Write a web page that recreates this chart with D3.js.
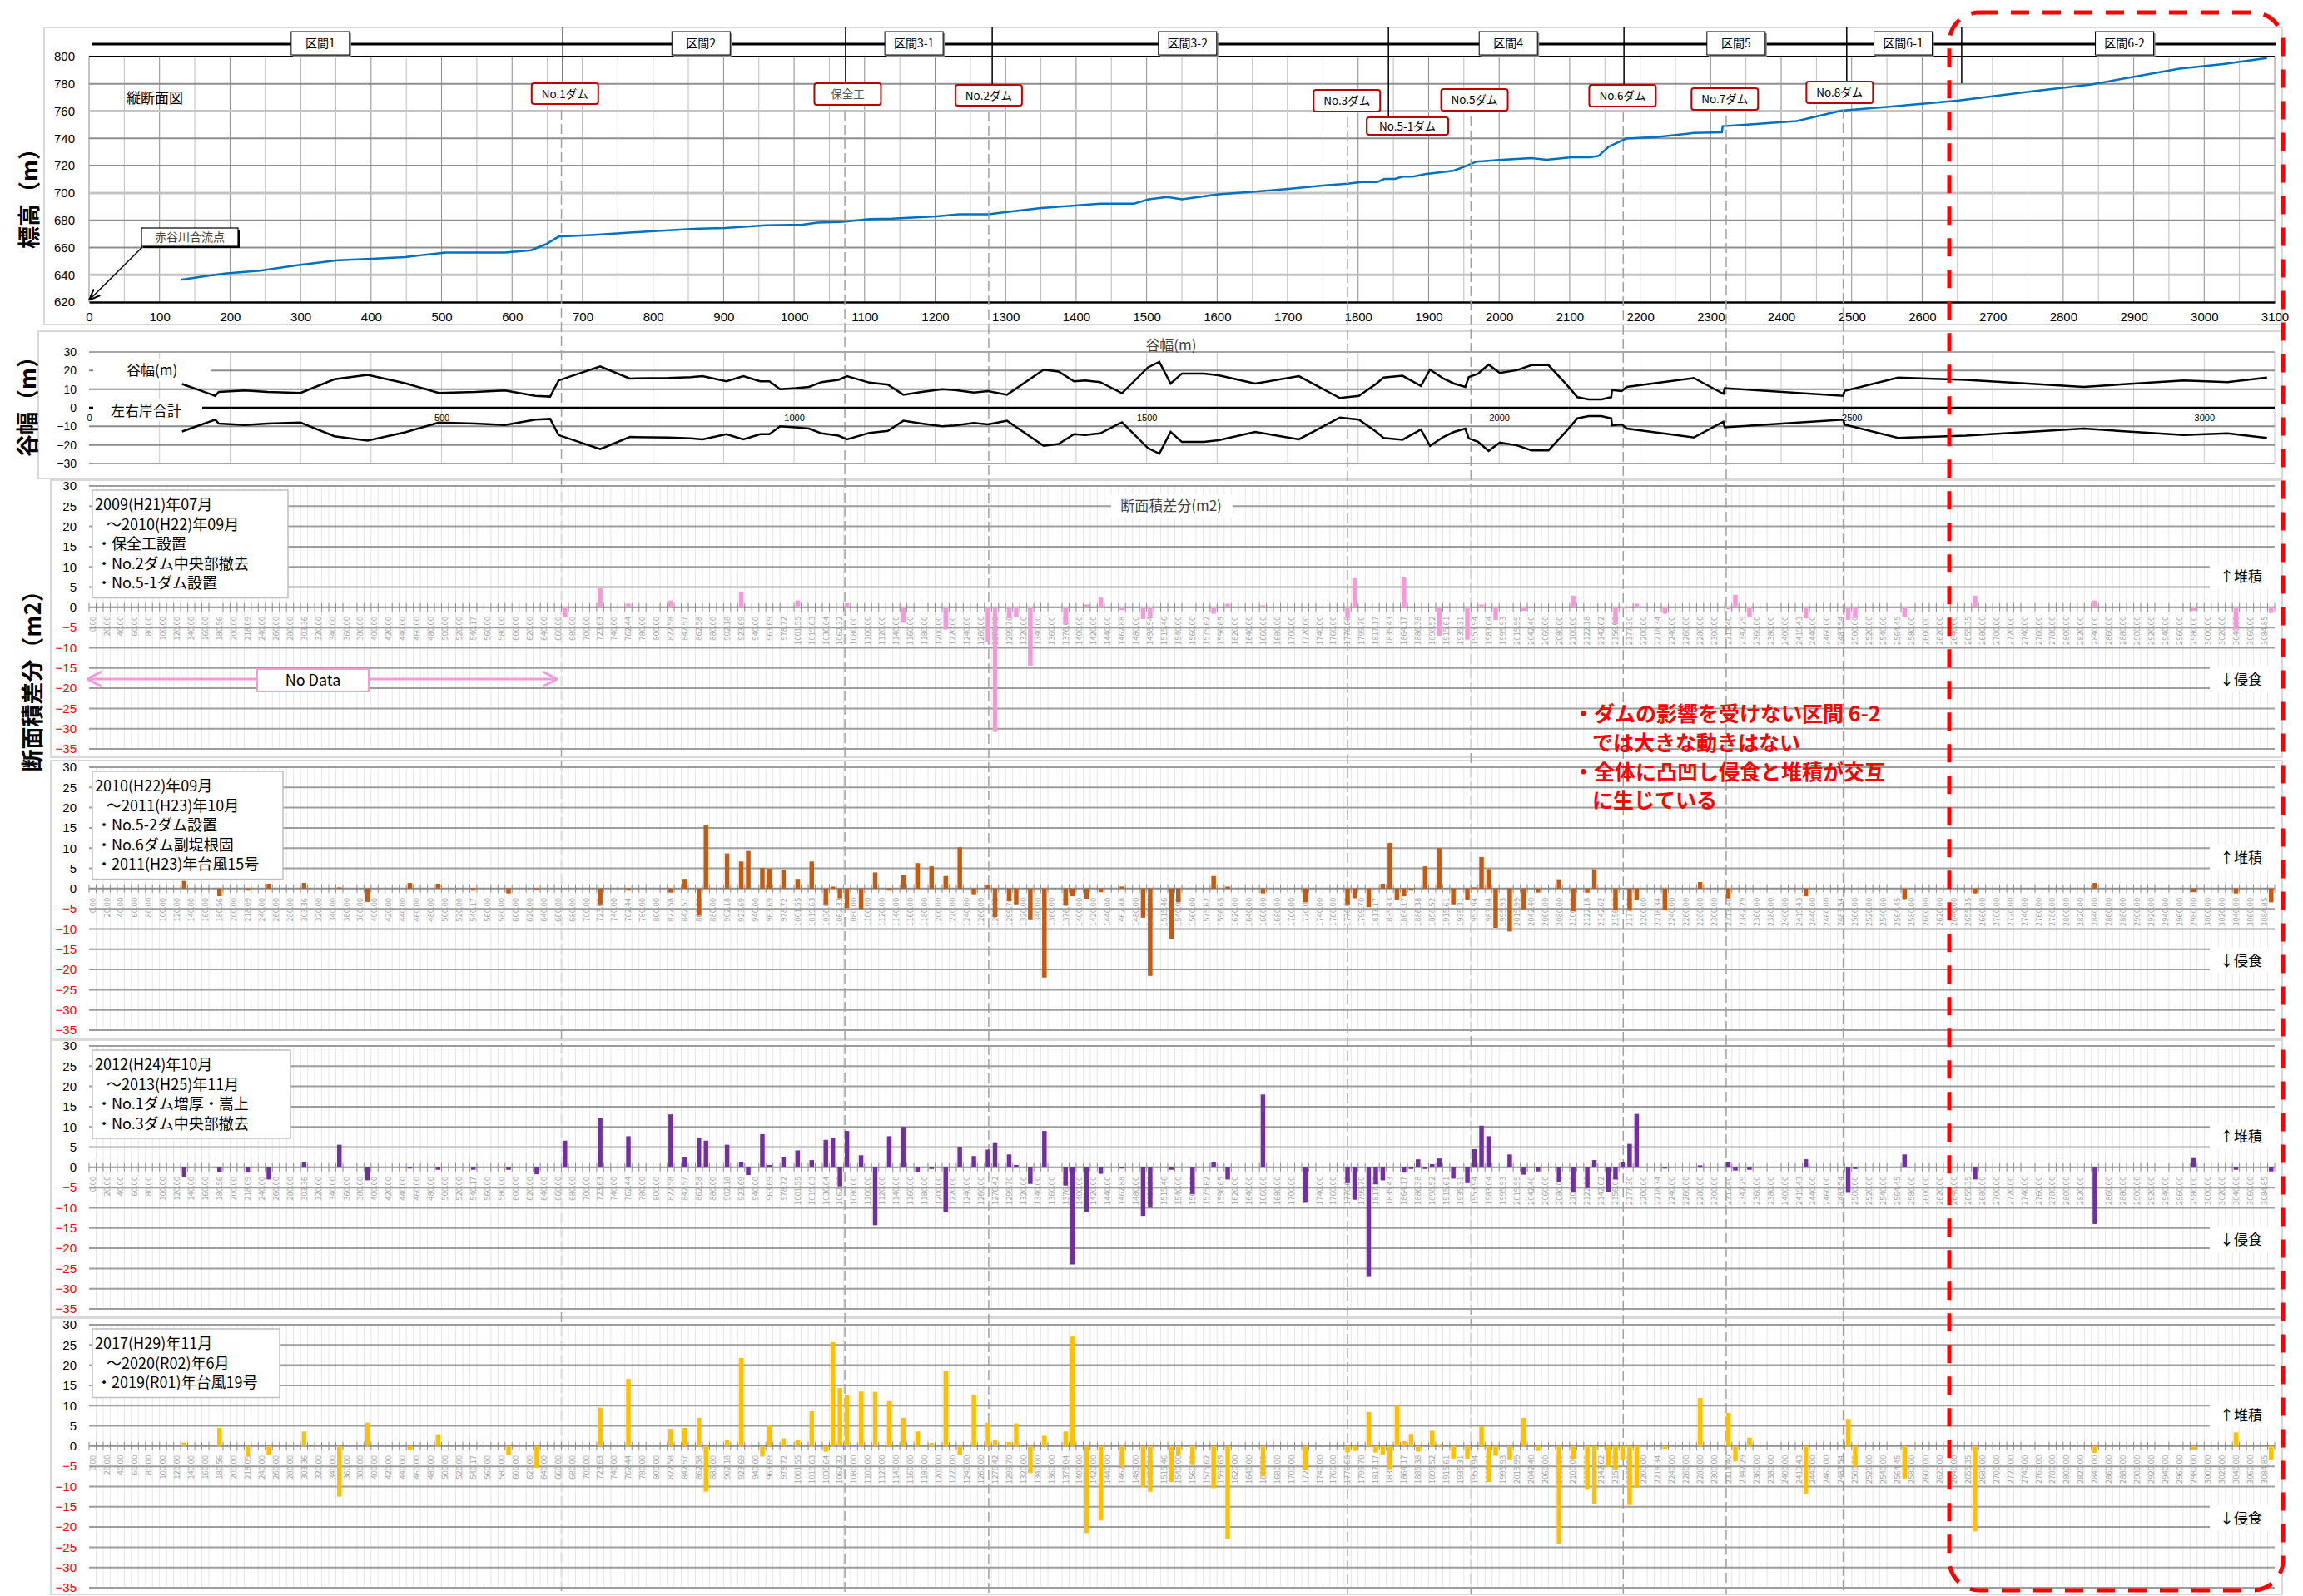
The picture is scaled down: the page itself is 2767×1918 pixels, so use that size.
<!DOCTYPE html>
<html lang="ja">
<head>
<meta charset="utf-8">
<title>縦断面図・谷幅・断面積差分</title>
<script src="https://cdn.jsdelivr.net/npm/d3@7/dist/d3.min.js"></script>
<style>
html,body{margin:0;padding:0;background:#fff;}
svg{display:block;}
text{font-family:"Noto Sans CJK JP","Noto Sans",sans-serif;}
.num text, text.num{font-family:"Liberation Sans","DejaVu Sans",sans-serif;}
</style>
</head>
<body>
<svg id="chart" width="2767" height="1918"></svg>
<script>
// ---------- Longitudinal profile: distance (m) / bed elevation (m)
const profileDist = [130,179,195,243,295,353,401,448,506,543,590,627,648,666,717,801,865,902,960,1012,1033,1065,1107,1139,1202,1234,1276,1297,1350,1391,1434,1482,1503,1529,1550,1602,1654,1701,1753,1785,1805,1827,1837,1852,1863,1878,1895,1915,1936,1952,1968,2004,2046,2067,2103,2129,2141,2155,2180,2223,2276,2316,2317,2348,2422,2485,2600,2652,2756,2840,2965,3027,3089];
const profileElev = [636.3,640,641,643,647,650.6,651.8,653,656.3,656.3,656.3,658,662.4,668,669.3,672,673.8,674.3,676.3,676.7,678.3,678.7,680.8,681.2,682.8,684.4,684.4,685.7,689,690.5,692.2,692.2,695.4,697,695.4,699,701,703,705.6,706.8,708,708,710.3,710.3,712,712,713.8,715,716.4,719.5,723,724.4,725.6,724.4,726.2,726.2,727.2,733.8,739.9,741,744,744.4,749,750,752.7,760.3,765.3,767.8,774.5,779.6,791.2,794.5,799];

// ---------- Valley width: distance (m) / width, left+right banks (m)
const widthDist = [132,179,184,221,253,300,348,395,448,496,548,590,633,654,666,725,767,822,854,870,904,928,952,965,980,1002,1021,1039,1063,1075,1107,1133,1155,1181,1210,1228,1255,1275,1302,1354,1375,1397,1413,1434,1465,1502,1518,1534,1550,1581,1602,1654,1716,1774,1801,1826,1836,1863,1889,1902,1921,1936,1952,1957,1970,1985,2001,2025,2046,2070,2095,2111,2127,2145,2159,2160,2174,2181,2276,2318,2320,2488,2490,2566,2662,2829,2971,3033,3089];
const widthVal = [12.75,6.4,8.5,9.3,8.5,8,15.3,17.7,13.2,8,8.5,9.3,6.4,6,14.7,22.2,15.7,16,16.5,17,14.2,17,14.2,14.2,10,10.5,11.2,13.8,15,17,13.5,12.4,7,8.5,10,9.5,8.2,9,7,20.5,19.5,14.2,14.7,13.8,7.8,21.75,24.7,13,18.4,18.4,17.5,13,17,5.25,6.4,13,16.2,17.2,11.7,20.5,15.7,13,11.2,16.5,18.3,23.2,18.7,20.2,22.9,22.9,12.7,5.7,4.5,4.5,5.7,9.5,9,11.2,16,7.5,10.5,6.4,9,16.2,15,11.2,14.7,13.8,16.2];

// ---------- Reaches and structures (distance m)
const sectionNames = ["区間1","区間2","区間3-1","区間3-2","区間4","区間5","区間6-1","区間6-2"];
const sectionLabelDist = [328,868,1170,1558,2013,2336,2573,2887];
const sectionBounds = [672,1073,1281,1843,2177,2493,2656];
const structNames = ["No.1ダム","保全工","No.2ダム","No.3ダム","No.5-1ダム","No.5ダム","No.6ダム","No.7ダム","No.8ダム"];
const structDist = [675,1076,1276,1784,1870,1965,2175,2320,2483];
const damLineDist = [670,1072,1276,1785,1960,2176,2322,2488];

// ---------- Cross sections (labelled every other slot)
const sections = ["0.00","20.00","40.00","60.00","80.00","100.00","120.00","140.00","160.00","180.56","200.00","218.09","240.00","260.00","280.00","303.36","320.00","340.00","360.00","380.00","400.00","420.00","440.00","460.00","480.00","500.00","520.00","540.17","560.00","580.00","600.00","620.00","640.00","660.00","680.00","700.00","723.63","740.00","762.44","780.00","800.00","822.58","842.57","862.58","880.00","902.18","923.69","940.00","963.69","978.72","1001.55","1019.63","1036.64","1062.32","1080.00","1100.00","1120.00","1140.00","1160.00","1180.00","1200.00","1220.00","1240.00","1260.00","1276.42","1299.70","1320.00","1340.00","1360.00","1376.04","1400.00","1420.00","1440.00","1462.88","1480.00","1498.94","1515.46","1540.00","1560.00","1575.62","1596.65","1620.00","1640.00","1660.00","1680.00","1700.00","1720.00","1740.00","1760.00","1776.68","1799.70","1817.17","1835.43","1864.17","1886.38","1898.52","1915.61","1935.31","1953.94","1983.04","1995.93","2019.99","2042.40","2060.00","2080.00","2100.00","2122.18","2142.62","2156.02","2177.30","2200.00","2218.34","2240.00","2260.00","2280.00","2300.00","2313.40","2342.29","2360.00","2380.00","2400.00","2419.43","2440.00","2460.00","2483.54","2500.00","2520.00","2540.00","2564.45","2580.00","2600.00","2620.00","2640.00","2655.35","2680.00","2700.00","2720.00","2740.00","2760.00","2780.00","2800.00","2820.00","2840.00","2860.00","2880.00","2900.00","2920.00","2940.00","2960.00","2980.00","3000.00","3020.00","3040.00","3060.00","3084.85"];
const slotCount = 310;

// ---------- Cross-section area change (m2): [slot, value]
const diff2009 = [[67,-2.4],[72,4.7],[76,0.9],[82,1.7],[92,3.9],[100,1.7],[107,1.0],[115,-3.8],[121,-5.5],[127,-8.6],[128,-30.8],[130,-2.7],[131,-2.4],[133,-14.4],[138,-4.1],[141,0.7],[143,2.4],[146,-0.7],[149,-2.9],[150,-2.4],[159,-1.6],[161,0.9],[166,0.5],[178,-2.7],[179,7.2],[186,7.4],[191,-7.0],[195,-8.0],[197,0.7],[199,-3.1],[203,-0.9],[210,2.9],[216,-4.1],[217,-0.3],[219,0.9],[223,-1.6],[232,-0.5],[233,3.1],[235,-2.4],[243,-2.7],[249,-3.1],[250,-2.7],[257,-2.4],[267,2.9],[284,1.7],[298,-0.9],[304,-5.5],[309,-1.4]];
const diff2010 = [[13,1.9],[18,-1.9],[22,-0.5],[25,1.2],[30,1.4],[35,0.3],[39,-3.3],[45,1.4],[49,1.2],[54,-0.5],[59,-1.2],[63,-0.4],[72,-3.9],[76,-0.5],[82,-1.0],[84,2.4],[86,-6.7],[87,15.6],[90,8.7],[92,6.7],[93,9.3],[95,5.1],[96,4.9],[98,4.5],[100,2.4],[102,6.7],[104,-3.9],[105,0.5],[106,-2.4],[107,-4.8],[109,-5.0],[111,4.0],[113,-0.5],[115,3.3],[117,6.3],[119,5.5],[121,3.1],[123,10.2],[125,-1.4],[127,0.9],[128,-7.1],[130,-3.1],[131,-3.9],[133,-7.8],[135,-22.0],[138,-4.1],[139,-1.9],[141,-2.5],[143,-0.9],[146,0.5],[149,-7.2],[150,-21.6],[153,-12.4],[154,-3.4],[159,3.1],[161,0.5],[166,-1.2],[172,-3.4],[178,-3.9],[179,-2.4],[181,-4.6],[183,1.2],[184,11.3],[185,-2.7],[186,-1.9],[187,-0.5],[189,5.5],[191,10.0],[193,-3.9],[195,-2.7],[196,0.3],[197,7.8],[198,4.8],[199,-9.7],[201,-10.6],[203,-5.1],[205,-1.0],[208,2.3],[210,-5.6],[212,-1.0],[213,4.8],[216,-5.4],[218,-5.4],[219,-2.7],[223,-5.4],[228,1.6],[232,-2.4],[243,-1.9],[257,-2.6],[267,-1.2],[284,1.4],[298,-0.9],[304,-1.2],[309,-3.4]];
const diff2012 = [[13,-2.5],[18,-1.1],[22,-1.3],[25,-3.0],[30,1.3],[35,5.6],[39,-3.2],[45,-0.3],[49,-0.6],[54,-0.6],[59,-0.6],[63,-1.7],[67,6.6],[72,12.1],[76,7.7],[82,13.1],[84,2.5],[86,7.2],[87,6.6],[90,5.6],[92,1.4],[93,-1.9],[95,8.2],[96,0.6],[98,2.5],[100,4.2],[102,1.8],[104,6.8],[105,7.2],[106,-4.7],[107,9.0],[109,3.0],[111,-14.3],[113,7.7],[115,10.0],[117,-1.1],[119,-0.4],[121,-11.1],[123,4.9],[125,2.8],[127,4.4],[128,6.0],[130,3.2],[131,0.6],[133,-4.1],[135,9.0],[138,-4.5],[139,-24.0],[141,-11.1],[143,-1.6],[146,-0.3],[149,-12.0],[150,-10.0],[153,-0.6],[156,-6.6],[159,1.3],[161,-3.0],[166,18.0],[172,-8.5],[178,-3.9],[179,-8.0],[181,-27.1],[182,-4.2],[183,-3.2],[186,-1.3],[187,-0.4],[188,2.0],[189,-0.4],[190,0.8],[191,2.2],[193,-2.8],[195,-3.9],[196,4.5],[197,10.3],[198,7.7],[201,3.2],[203,-1.8],[205,-1.0],[208,-3.6],[210,-6.1],[212,-5.1],[213,1.8],[215,-6.1],[216,-3.0],[217,1.2],[218,5.8],[219,13.2],[223,-0.3],[228,0.5],[232,1.2],[233,-0.8],[235,-0.6],[243,2.0],[249,-6.3],[250,-0.4],[257,3.2],[267,-3.0],[284,-14.0],[298,2.3],[304,-0.6],[309,-1.0]];
const diff2017 = [[13,0.9],[18,4.5],[22,-2.6],[25,-2.1],[30,3.6],[35,-12.5],[39,5.8],[45,-0.9],[49,2.9],[59,-2.1],[63,-5.4],[72,9.5],[76,16.6],[82,4.3],[84,4.5],[86,7.0],[87,-11.3],[90,1.5],[92,21.8],[93,0.3],[95,-2.6],[96,5.3],[98,1.9],[100,1.5],[102,8.6],[104,-1.4],[105,25.7],[106,14.4],[107,12.6],[109,13.5],[111,13.4],[113,11.1],[115,7.0],[117,3.6],[119,0.8],[121,18.5],[123,-2.2],[125,12.7],[127,5.8],[128,1.4],[130,1.0],[131,5.6],[133,-6.7],[135,2.6],[138,3.6],[139,27.1],[141,-21.5],[143,-18.4],[146,-5.1],[149,-10.1],[150,-11.3],[153,-8.9],[154,-2.2],[156,-4.5],[159,-10.4],[161,-23.0],[166,-7.5],[172,-5.8],[178,-1.6],[179,-1.2],[181,8.4],[182,-1.6],[183,-2.1],[184,-5.7],[185,10.0],[186,1.2],[187,3.0],[188,-1.4],[190,3.8],[191,0.5],[193,-3.1],[195,-3.1],[197,4.9],[198,-8.8],[199,-2.4],[201,-3.3],[203,7.0],[205,-1.2],[208,-24.2],[210,-3.1],[212,-10.8],[213,-14.4],[215,-5.1],[216,-5.7],[217,-3.4],[218,-14.6],[219,-10.3],[223,-0.7],[228,11.9],[232,8.2],[233,-3.8],[235,2.1],[243,-11.8],[249,6.7],[250,-5.1],[257,-8.0],[267,-21.1],[284,-1.7],[298,-0.9],[304,3.4],[309,-3.3]];

const periodNotes = [
  ["2009(H21)年07月","～2010(H22)年09月","・保全工設置","・No.2ダム中央部撤去","・No.5-1ダム設置"],
  ["2010(H22)年09月","～2011(H23)年10月","・No.5-2ダム設置","・No.6ダム副堤根固","・2011(H23)年台風15号"],
  ["2012(H24)年10月","～2013(H25)年11月","・No.1ダム増厚・嵩上","・No.3ダム中央部撤去"],
  ["2017(H29)年11月","～2020(R02)年6月","・2019(R01)年台風19号"]
];
const noteLines = ["・ダムの影響を受けない区間 6-2","では大きな動きはない","・全体に凸凹し侵食と堆積が交互","に生じている"];

// ================= drawing =================
const svg = d3.select("#chart");
const FRAME = "#d9d9d9";
const x = d3.scaleLinear().domain([0, 3100]).range([107, 2733]);

// outer frames of each block
[[53,33,2689,357],[46,398,2696,177],[61,577,2681,333],[61,914,2681,335],[61,1250,2681,333],[61,1584,2681,332]]
  .forEach(([fx,fy,fw,fh]) => svg.append("rect").attr("x",fx).attr("y",fy).attr("width",fw).attr("height",fh)
    .attr("fill","none").attr("stroke",FRAME).attr("stroke-width",2));

// ---------- Profile chart
const yE = d3.scaleLinear().domain([620, 800]).range([363, 68]);
const gTop = svg.append("g");
gTop.selectAll(".vg").data(d3.range(0, 3101, 50)).join("line")
  .attr("x1", d => x(d)).attr("x2", d => x(d)).attr("y1", yE(800)).attr("y2", yE(620))
  .attr("stroke", d => d % 100 === 0 ? "#8c8c8c" : "#bdbdbd").attr("stroke-width", 1);
gTop.selectAll(".hg").data(d3.range(640, 800, 20)).join("line")
  .attr("x1", x(0)).attr("x2", x(3100)).attr("y1", d => yE(d)).attr("y2", d => yE(d))
  .attr("stroke", d => (d === 760 || d === 700 || d === 640) ? "#c4c4c4" : "#8f8f8f")
  .attr("stroke-width", d => (d === 760 || d === 700 || d === 640) ? 3 : 2);
gTop.append("line").attr("x1", x(0)).attr("x2", x(3100)).attr("y1", yE(800)).attr("y2", yE(800)).attr("stroke", "#000").attr("stroke-width", 2);

const axTopX = gTop.append("g").attr("class","num").attr("transform", `translate(0,${yE(620)})`)
  .call(d3.axisBottom(x).tickValues(d3.range(0, 3101, 100)).tickSize(0).tickPadding(12).tickFormat(d3.format("d")));
axTopX.select(".domain").attr("stroke", "#000").attr("stroke-width", 2.5);
axTopX.selectAll("text").attr("font-size", 15).attr("fill", "#000");
const axTopY = gTop.append("g").attr("class","num").attr("transform", `translate(${x(0)},0)`)
  .call(d3.axisLeft(yE).tickValues(d3.range(620, 801, 20)).tickSize(0).tickPadding(17));
axTopY.select(".domain").remove();
axTopY.selectAll("text").attr("font-size", 15).attr("fill", "#000");

gTop.append("path").datum(d3.zip(profileDist, profileElev))
  .attr("fill", "none").attr("stroke", "#0070C0").attr("stroke-width", 2.5)
  .attr("d", d3.line().x(d => x(d[0])).y(d => yE(d[1])));

gTop.append("text").attr("x", 152).attr("y", 124).attr("font-size", 17).text("縦断面図");

// confluence marker
svg.append("defs").html(`
  <marker id="arw" viewBox="0 0 10 10" refX="9" refY="5" markerWidth="9" markerHeight="9" orient="auto-start-reverse">
    <path d="M0,1 L10,5 L0,9" fill="none" stroke="#000" stroke-width="1.5"/></marker>
  <marker id="parw" viewBox="0 0 10 10" refX="9" refY="5" markerWidth="6" markerHeight="8" orient="auto-start-reverse">
    <path d="M0,0 L10,5 L0,10" fill="none" stroke="#f59ad8" stroke-width="1.6"/></marker>`);
gTop.append("rect").attr("x", 172).attr("y", 276).attr("width", 116).attr("height", 22).attr("fill", "#000");
gTop.append("rect").attr("x", 170).attr("y", 274).attr("width", 116).attr("height", 22).attr("fill", "#fff").attr("stroke", "#000").attr("stroke-width", 1.2);
gTop.append("text").attr("x", 228).attr("y", 290).attr("text-anchor", "middle").attr("font-size", 14).attr("fill", "#404040").text("赤谷川合流点");
gTop.append("line").attr("x1", 171).attr("y1", 297).attr("x2", x(0) + 1).attr("y2", yE(622))
  .attr("stroke", "#000").attr("stroke-width", 1.5).attr("marker-end", "url(#arw)");

// reach bar with boundaries and labels
gTop.append("line").attr("x1", 111).attr("x2", 2735).attr("y1", 53).attr("y2", 53).attr("stroke", "#000").attr("stroke-width", 3);
const boundEnd = [100, 100, 102, 143, 102, 98, 100];
sectionBounds.forEach((d, i) => gTop.append("line").attr("x1", x(d)).attr("x2", x(d)).attr("y1", 33).attr("y2", boundEnd[i])
  .attr("stroke", "#000").attr("stroke-width", 1.5));
sectionNames.forEach((n, i) => {
  const cx = x(sectionLabelDist[i]);
  gTop.append("rect").attr("x", cx - 33).attr("y", 40).attr("width", 70).attr("height", 28).attr("fill", "#8c8c8c");
  gTop.append("rect").attr("x", cx - 35).attr("y", 38).attr("width", 70).attr("height", 28).attr("fill", "#fff").attr("stroke", "#000").attr("stroke-width", 1);
  gTop.append("text").attr("x", cx).attr("y", 57).attr("text-anchor", "middle").attr("font-size", 14).text(n);
});

// structure labels
const structTop = [100, 100, 102, 108, 141, 107, 102, 106, 98];
const structH = [25, 26, 25, 26, 21, 26, 26, 26, 26];
structNames.forEach((n, i) => {
  const cx = x(structDist[i]);
  const w = n.length > 6 ? 98 : 80;
  svg.append("rect").attr("x", cx - w / 2).attr("y", structTop[i]).attr("width", w).attr("height", structH[i])
    .attr("rx", 3).attr("fill", "#fff").attr("stroke", "#c00000").attr("stroke-width", 2);
  svg.append("text").attr("x", cx).attr("y", structTop[i] + structH[i] / 2 + 5).attr("text-anchor", "middle")
    .attr("font-size", 13.5).attr("fill", n === "保全工" ? "#555" : "#000").text(n);
});

// dam reference lines through every panel
const damLabelIdx = [0, 1, 2, 3, 5, 6, 7, 8];
damLineDist.forEach((d, i) => {
  const k = damLabelIdx[i];
  svg.append("line").attr("x1", x(d)).attr("x2", x(d)).attr("y1", structTop[k] + structH[k] + 7).attr("y2", 1916)
    .attr("stroke", "#a0a0a0").attr("stroke-width", 1.5).attr("stroke-dasharray", "12 5");
});

// ---------- Valley width chart
const yW = d3.scaleLinear().domain([-30, 30]).range([557, 423]);
const gW = svg.append("g");
gW.selectAll(".vg").data(d3.range(100, 3101, 100)).join("line")
  .attr("x1", d => x(d)).attr("x2", d => x(d)).attr("y1", yW(30)).attr("y2", yW(-30))
  .attr("stroke", "#c8c8c8").attr("stroke-width", 1);
gW.selectAll(".hg").data([30, 20, 10, -10, -20, -30]).join("line")
  .attr("x1", x(0)).attr("x2", x(3100)).attr("y1", d => yW(d)).attr("y2", d => yW(d))
  .attr("stroke", d => Math.abs(d) === 30 ? "#a6a6a6" : "#8c8c8c").attr("stroke-width", 2);
gW.append("line").attr("x1", x(0)).attr("x2", x(3100)).attr("y1", yW(0)).attr("y2", yW(0)).attr("stroke", "#000").attr("stroke-width", 2.5);
const axWY = gW.append("g").attr("class","num").attr("transform", `translate(${x(0)},0)`)
  .call(d3.axisLeft(yW).tickValues(d3.range(-30, 31, 10)).tickSize(0).tickPadding(15));
axWY.select(".domain").remove();
axWY.selectAll("text").attr("font-size", 14).attr("fill", "#000");
const axWX = gW.append("g").attr("class","num").attr("transform", `translate(0,${yW(0)})`)
  .call(d3.axisBottom(x).tickValues(d3.range(0, 3001, 500)).tickSize(0).tickPadding(8).tickFormat(d3.format("d")));
axWX.select(".domain").remove();
axWX.selectAll("text").attr("font-size", 11).attr("fill", "#000");

const widthPts = d3.zip(widthDist, widthVal);
gW.append("path").datum(widthPts).attr("fill", "none").attr("stroke", "#000").attr("stroke-width", 2.5)
  .attr("d", d3.line().x(d => x(d[0])).y(d => yW(d[1])));
gW.append("path").datum(widthPts).attr("fill", "none").attr("stroke", "#000").attr("stroke-width", 2.5)
  .attr("d", d3.line().x(d => x(d[0])).y(d => yW(-d[1])));

gW.append("rect").attr("x", 112).attr("y", 432).attr("width", 142).attr("height", 26).attr("fill", "#fff");
gW.append("text").attr("x", 152).attr("y", 451).attr("font-size", 17).text("谷幅(m)");
gW.append("rect").attr("x", 112).attr("y", 480).attr("width", 131).attr("height", 26).attr("fill", "#fff");
gW.append("text").attr("x", 133).attr("y", 500).attr("font-size", 17).text("左右岸合計");
svg.append("text").attr("x", 1407).attr("y", 421).attr("text-anchor", "middle").attr("font-size", 17).attr("fill", "#404040").text("谷幅(m)");

// ---------- Cross-section change panels
const xb = d3.scaleBand().domain(d3.range(slotCount)).range([107, 2733]);
const panelTops = [584, 922, 1257, 1592];
const panelData = [diff2009, diff2010, diff2012, diff2017];
const panelColors = ["#f59ad8", "#c55a11", "#7030a0", "#ffc000"];
const noteBoxW = [235, 229, 238, 225];

panelData.forEach((data, pi) => {
  const top = panelTops[pi];
  const yB = d3.scaleLinear().domain([-35, 30]).range([top + 316, top]);
  const g = svg.append("g");

  g.selectAll(".vg").data(d3.range(1, slotCount)).join("line")
    .attr("x1", d => xb(d)).attr("x2", d => xb(d)).attr("y1", yB(30)).attr("y2", yB(-35))
    .attr("stroke", "#e6e6e6").attr("stroke-width", 1);
  g.selectAll(".hg").data(d3.range(-35, 31, 5).filter(v => v !== 0)).join("line")
    .attr("x1", xb(0)).attr("x2", 2733).attr("y1", d => yB(d)).attr("y2", d => yB(d))
    .attr("stroke", "#9d9d9d").attr("stroke-width", 2);

  // category labels
  const axX = g.append("g").attr("transform", `translate(0,${yB(0)})`)
    .call(d3.axisBottom(xb).tickValues(d3.range(0, slotCount, 2)).tickSize(0).tickFormat(i => sections[i / 2]));
  axX.select(".domain").remove();
  axX.selectAll("text").attr("transform", "rotate(-90)").attr("x", -11).attr("y", 0).attr("dy", "0.35em")
    .attr("text-anchor", "end").attr("font-size", 9.5).attr("fill", "#a6a6a6")
    .attr("font-family", "'Liberation Sans','DejaVu Sans',sans-serif");

  // zero line with slot ticks
  g.append("line").attr("x1", xb(0)).attr("x2", 2733).attr("y1", yB(0)).attr("y2", yB(0)).attr("stroke", "#8c8c8c").attr("stroke-width", 2);
  g.selectAll(".tk").data(d3.range(0, slotCount + 1)).join("line")
    .attr("x1", d => d === slotCount ? 2733 : xb(d)).attr("x2", d => d === slotCount ? 2733 : xb(d))
    .attr("y1", yB(0) - 5).attr("y2", yB(0) + 5).attr("stroke", "#8c8c8c").attr("stroke-width", 1);

  // bars
  const bw = 5.5;
  g.selectAll(".bar").data(data).join("rect")
    .attr("x", d => xb(d[0]) + (xb.bandwidth() - bw) / 2)
    .attr("y", d => yB(Math.max(0, d[1])))
    .attr("width", bw)
    .attr("height", d => Math.abs(yB(d[1]) - yB(0)))
    .attr("fill", panelColors[pi]);

  // value axis
  const axY = g.append("g").attr("class","num").attr("transform", `translate(${xb(0)},0)`)
    .call(d3.axisLeft(yB).tickValues(d3.range(-35, 31, 5)).tickSize(0).tickPadding(15));
  axY.select(".domain").remove();
  axY.selectAll("text").attr("font-size", 15).attr("fill", d => d < 0 ? "#ff0000" : "#000");

  // period note box
  const lines = periodNotes[pi];
  const bh = 23.5 * lines.length + 12;
  g.append("rect").attr("x", 111).attr("y", top + 5).attr("width", noteBoxW[pi]).attr("height", bh)
    .attr("fill", "#fff").attr("stroke", "#bfbfbf").attr("stroke-width", 1.5);
  lines.forEach((t, li) => {
    const lx = li === 0 ? 114 : (t.startsWith("～") ? 128 : 116);
    g.append("text").attr("x", lx).attr("y", top + 29 + 23.5 * li).attr("font-size", 18).attr("fill", "#000").text(t);
  });

  // deposition / erosion hints
  [["↑堆積", top + 109], ["↓侵食", top + 233]].forEach(([t, yy]) => {
    g.append("rect").attr("x", 2655).attr("y", yy - 16).attr("width", 78).attr("height", 30).attr("fill", "#fff");
    g.append("text").attr("x", 2667).attr("y", yy + 6).attr("font-size", 17).text(t);
  });
});

// panel caption
svg.append("rect").attr("x", 1335).attr("y", 594).attr("width", 146).attr("height", 28).attr("fill", "#fff");
svg.append("text").attr("x", 1407).attr("y", 614).attr("text-anchor", "middle").attr("font-size", 17).attr("fill", "#404040").text("断面積差分(m2)");

// no-data span in the first panel
svg.append("line").attr("x1", 106).attr("x2", 668).attr("y1", 816).attr("y2", 816)
  .attr("stroke", "#f59ad8").attr("stroke-width", 3)
  .attr("marker-start", "url(#parw)").attr("marker-end", "url(#parw)");
svg.append("rect").attr("x", 309).attr("y", 804).attr("width", 134).attr("height", 27)
  .attr("fill", "#fff").attr("stroke", "#f59ad8").attr("stroke-width", 2);
svg.append("text").attr("x", 376).attr("y", 824).attr("text-anchor", "middle").attr("font-size", 18)
  .attr("font-family", "'Liberation Sans',sans-serif").text("No Data");

// y titles
[["標高（m）", 36, 232], ["谷幅（m）", 34, 482], ["断面積差分（m2）", 40, 812]].forEach(([t, tx, ty]) =>
  svg.append("text").attr("transform", `translate(${tx},${ty}) rotate(-90)`).attr("text-anchor", "middle")
    .attr("dy", "0.35em").attr("font-size", 27).attr("font-weight", "bold").text(t));

// comment text
const notePos = [[1890, 867], [1913, 902], [1890, 937], [1913, 971]];
noteLines.forEach((t, i) => svg.append("text").attr("x", notePos[i][0]).attr("y", notePos[i][1])
  .attr("font-size", 25).attr("font-weight", "bold").attr("fill", "#ff0000").text(t));

// highlighted reach 6-2
svg.append("rect").attr("x", 2342).attr("y", 15).attr("width", 401).attr("height", 1896).attr("rx", 36)
  .attr("fill", "none").attr("stroke", "#ff0000").attr("stroke-width", 5).attr("stroke-dasharray", "22 16");
</script>
</body>
</html>
